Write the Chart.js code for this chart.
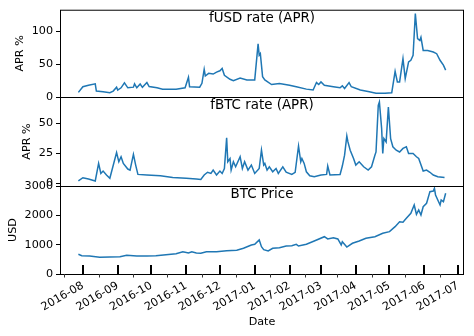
<!DOCTYPE html>
<html>
<head>
<meta charset="utf-8">
<script src="https://cdn.jsdelivr.net/npm/chart.js@4"></script>
<style>
  html, body { margin: 0; padding: 0; background: #fff; }
  #wrap { position: relative; width: 474px; height: 336px; }
  canvas { position: absolute; left: 0; top: 0; }
</style>
</head>
<body>
<div id="wrap">
  <canvas id="usdChart" width="474" height="336"></canvas>
  <canvas id="btcChart" width="474" height="336"></canvas>
  <canvas id="priceChart" width="474" height="336"></canvas>
</div>
<script>
// fUSD lending rate (APR %)
const usdDates = ['2016-07-28','2016-08-01','2016-08-06','2016-08-12','2016-08-13','2016-08-19','2016-08-25','2016-08-28','2016-08-31',
  '2016-09-01','2016-09-04','2016-09-07','2016-09-10','2016-09-15','2016-09-16','2016-09-18','2016-09-21','2016-09-23','2016-09-27','2016-09-29',
  '2016-10-06','2016-10-11','2016-10-23','2016-10-31','2016-11-03','2016-11-04','2016-11-13','2016-11-15','2016-11-17','2016-11-18','2016-11-21',
  '2016-11-25','2016-11-28','2016-12-01','2016-12-03','2016-12-05','2016-12-10','2016-12-13','2016-12-19','2016-12-25','2017-01-01','2017-01-04',
  '2017-01-05','2017-01-06','2017-01-08','2017-01-10','2017-01-16','2017-01-23','2017-02-01','2017-02-07','2017-02-16','2017-02-22','2017-02-25',
  '2017-02-27','2017-03-01','2017-03-04','2017-03-12','2017-03-18','2017-03-20','2017-03-22','2017-03-26','2017-03-28','2017-04-05','2017-04-13',
  '2017-04-19','2017-04-27','2017-05-03','2017-05-06','2017-05-08','2017-05-10','2017-05-13','2017-05-15','2017-05-18','2017-05-20','2017-05-22',
  '2017-05-24','2017-05-26','2017-05-28','2017-05-29','2017-05-31','2017-06-04','2017-06-09','2017-06-12','2017-06-15','2017-06-18','2017-06-20'];
const usdRates = [7,15.6,18,20,9,8,6.5,9,15,
  10.6,14,21.7,14,15,20,14,19.7,14.7,22,16,
  14,12,12,14,30,15.6,15,20.8,42,32,36,
  35,38,40,43.5,33,27,24.7,29,26,26,81,
  63.6,66,31,26,19,20.7,18,15.6,12,10.6,22,
  19,23,18,15.6,14,17,13,22,15.6,10.6,8,
  5.6,5.6,6.5,39,23,23,58.6,28,53.5,56,63.6,
  127,89,86,91,71,71,68.6,66,56,48.5,41];

// fBTC lending rate (APR %)
const btcRateDates = ['2016-07-28','2016-08-01','2016-08-06','2016-08-12','2016-08-15','2016-08-17','2016-08-19','2016-08-22','2016-08-25','2016-08-31',
  '2016-09-02','2016-09-04','2016-09-06','2016-09-10','2016-09-12','2016-09-15','2016-09-17','2016-09-19','2016-09-27','2016-10-09','2016-10-20',
  '2016-11-01','2016-11-10','2016-11-14','2016-11-17','2016-11-20','2016-11-23','2016-11-25','2016-11-28','2016-12-01','2016-12-03','2016-12-05',
  '2016-12-07','2016-12-08','2016-12-10','2016-12-11','2016-12-13','2016-12-15','2016-12-19','2016-12-21','2016-12-23','2016-12-26','2016-12-29',
  '2017-01-01','2017-01-05','2017-01-07','2017-01-09','2017-01-10','2017-01-12','2017-01-14','2017-01-17','2017-01-20','2017-01-22','2017-01-26',
  '2017-01-29','2017-02-03','2017-02-06','2017-02-09','2017-02-11','2017-02-12','2017-02-14','2017-02-16','2017-02-19','2017-02-23','2017-03-01',
  '2017-03-06','2017-03-07','2017-03-09','2017-03-18','2017-03-20','2017-03-22','2017-03-24','2017-03-25','2017-03-27','2017-03-30','2017-04-01',
  '2017-04-04','2017-04-08','2017-04-12','2017-04-15','2017-04-18','2017-04-19','2017-04-21','2017-04-22','2017-04-24','2017-04-25','2017-04-26',
  '2017-04-28','2017-04-30','2017-05-02','2017-05-04','2017-05-07','2017-05-10','2017-05-13','2017-05-16','2017-05-18','2017-05-22','2017-05-25',
  '2017-05-27','2017-05-31','2017-06-03','2017-06-06','2017-06-09','2017-06-13','2017-06-19'];
const btcRates = [1.7,4.4,3.3,1.7,16.4,8,10,6.7,4,25.5,
  17.8,22,16.4,11.7,10.8,24,15,7.2,6.7,6.1,4.7,
  4,3.3,3,6.7,9,8,10.8,6.7,10,8,12.2,
  37.8,17.8,20.5,10.8,17.8,13.6,22,12.2,17.8,10.8,15,
  8,12.2,27.5,15,16.4,10.8,13.6,9.4,12.2,8,13.6,
  9,7.2,9,31,17.8,20.5,16.4,9.4,6.1,5.3,6.7,
  7.2,14.2,6.7,7.2,14.2,23.3,39.4,34.4,27.5,20.5,15,
  17.8,13.6,10.8,13.6,23.3,26,65,67.8,45.6,24.7,37.2,
  34.4,63.6,37.2,30.3,27.5,26,29,30.3,24.7,24.7,22,
  20.5,10,10.8,9,6.7,5.3,4.7];

// BTC price (USD)
const priceDates = ['2016-07-28','2016-07-31','2016-08-07','2016-08-16','2016-08-25','2016-09-03','2016-09-09','2016-09-18','2016-09-27','2016-10-05',
  '2016-10-14','2016-10-23','2016-10-29','2016-11-03','2016-11-06','2016-11-10','2016-11-14','2016-11-19','2016-11-28','2016-12-07','2016-12-16',
  '2016-12-22','2016-12-29','2017-01-01','2017-01-05','2017-01-07','2017-01-09','2017-01-13','2017-01-17','2017-01-23','2017-01-29','2017-02-03',
  '2017-02-07','2017-02-09','2017-02-16','2017-02-23','2017-03-04','2017-03-07','2017-03-12','2017-03-16','2017-03-19','2017-03-20','2017-03-24',
  '2017-03-29','2017-04-04','2017-04-10','2017-04-18','2017-04-25','2017-05-01','2017-05-06','2017-05-10','2017-05-13','2017-05-16','2017-05-20',
  '2017-05-23','2017-05-25','2017-05-27','2017-05-29','2017-05-31','2017-06-03','2017-06-06','2017-06-09','2017-06-10','2017-06-11','2017-06-15',
  '2017-06-16','2017-06-18','2017-06-20'];
const prices = [671,624,614,570,580,590,638,614,614,624,
  658,692,760,716,760,716,705,760,760,795,808,
  876,990,1013,1160,930,830,784,876,897,955,965,
  1013,955,1013,1125,1272,1194,1238,1194,990,1100,920,
  1047,1125,1217,1272,1388,1443,1613,1783,1763,1900,2070,
  2353,2036,2182,2012,2295,2411,2807,2830,2922,2694,2353,
  2523,2466,2752];

const monthTicks = ['2016-08-01','2016-09-01','2016-10-01','2016-11-01','2016-12-01','2017-01-01',
  '2017-02-01','2017-03-01','2017-04-01','2017-05-01','2017-06-01','2017-07-01'];
const midMonthTicks = ['2016-07-15','2016-08-15','2016-09-15','2016-10-15','2016-11-15','2016-12-15',
  '2017-01-15','2017-02-15','2017-03-15','2017-04-15','2017-05-15','2017-06-15'];
const usdRateTicks = [0, 50, 100];
const btcRateTicks = [0, 25, 50];
const priceTicks = [0, 1000, 2000, 3000];

const xMin = Date.parse('2016-07-11T15:00:00Z');
const xMax = Date.parse('2017-07-06T08:00:00Z');
const FONT = 'DejaVu Sans';
const TICK_SIZE = 11.2;
const TITLE_SIZE = 13.4;
const LINE = '#1f77b4';

function toPoints(dates, vals) {
    return dates.map((d, i) => ({ x: Date.parse(d), y: vals[i] }));
}

function monthLabel(v) {
    const d = new Date(v);
    return d.getUTCFullYear() + '-' + String(d.getUTCMonth() + 1).padStart(2, '0');
}

// frame, inner title and the date tick marks
const panelDeco = {
    id: 'panelDeco',
    afterDraw(chart, args, opts) {
        const { ctx, chartArea: a } = chart;
        ctx.save();
        ctx.strokeStyle = '#000';
        ctx.lineWidth = 1;
        ctx.strokeRect(a.left + 0.5, a.top + 0.5, a.right - a.left - 1, a.bottom - a.top);
        ctx.fillStyle = '#000';
        ctx.font = TITLE_SIZE + 'px "' + FONT + '"';
        ctx.textAlign = 'center';
        ctx.textBaseline = 'middle';
        ctx.fillText(opts.text, (a.left + a.right) / 2, a.top + 9);
        if (opts.dateTicks) {
            const xs = chart.scales.x;
            ctx.lineWidth = 2;
            monthTicks.forEach(d => {
                const px = Math.round(xs.getPixelForValue(Date.parse(d)));
                ctx.beginPath();
                ctx.moveTo(px, a.bottom);
                ctx.lineTo(px, a.bottom - 9);
                ctx.stroke();
            });
            ctx.lineWidth = 1;
            ctx.strokeStyle = '#333';
            midMonthTicks.forEach(d => {
                const px = Math.round(xs.getPixelForValue(Date.parse(d))) + 0.5;
                ctx.beginPath();
                ctx.moveTo(px, a.bottom);
                ctx.lineTo(px, a.bottom + 3.5);
                ctx.stroke();
            });
        }
        ctx.restore();
    }
};

function yAxis(tickList, min, max, title, titlePad) {
    return {
        min: min,
        max: max,
        afterFit: s => { s.width = 60; },
        afterBuildTicks: s => { s.ticks = tickList.map(v => ({ value: v })); },
        grid: { drawOnChartArea: false, color: '#000', tickLength: 4 },
        border: { display: false },
        ticks: { color: '#000', padding: 3, font: { family: FONT, size: TICK_SIZE }, callback: v => String(v) },
        title: { display: true, text: title, color: '#000', font: { family: FONT, size: TICK_SIZE },
                 padding: { top: titlePad, bottom: 0 } }
    };
}

function makePanel(id, points, yScale, titleText, padTop, padBottom, bottomAxis) {
    const xScale = bottomAxis ? {
        type: 'linear',
        min: xMin,
        max: xMax,
        afterFit: s => { s.height = 62; },
        afterBuildTicks: s => { s.ticks = monthTicks.map(d => ({ value: Date.parse(d) })); },
        grid: { display: false, drawTicks: false },
        border: { display: false },
        ticks: { autoSkip: false, minRotation: 30, maxRotation: 30, padding: 5, color: '#000',
                 font: { family: FONT, size: TICK_SIZE }, callback: v => monthLabel(v) },
        title: { display: true, text: 'Date', color: '#000', font: { family: FONT, size: TICK_SIZE },
                 padding: { top: 0, bottom: 7 } }
    } : { type: 'linear', display: false, min: xMin, max: xMax };

    return new Chart(document.getElementById(id), {
        type: 'line',
        data: {
            datasets: [{
                data: points,
                borderColor: LINE,
                borderWidth: 1.5,
                pointRadius: 0,
                fill: false,
                tension: 0
            }]
        },
        options: {
            responsive: false,
            animation: false,
            layout: { padding: { left: 0, right: 10, top: padTop, bottom: padBottom } },
            scales: { x: xScale, y: yScale },
            plugins: {
                legend: { display: false },
                tooltip: { enabled: false },
                panelDeco: { text: titleText, dateTicks: bottomAxis }
            }
        },
        plugins: [panelDeco]
    });
}

makePanel('usdChart', toPoints(usdDates, usdRates), yAxis(usdRateTicks, 0, 133, 'APR %', 13.8),
          'fUSD rate (APR)', 9, 239, false);
makePanel('btcChart', toPoints(btcRateDates, btcRates), yAxis(btcRateTicks, -2.5, 72, 'APR %', 20.3),
          'fBTC rate (APR)', 97, 150, false);
makePanel('priceChart', toPoints(priceDates, prices), yAxis(priceTicks, 0, 3000, 'USD', 6.6),
          'BTC Price', 186, 0, true);
</script>
</body>
</html>
